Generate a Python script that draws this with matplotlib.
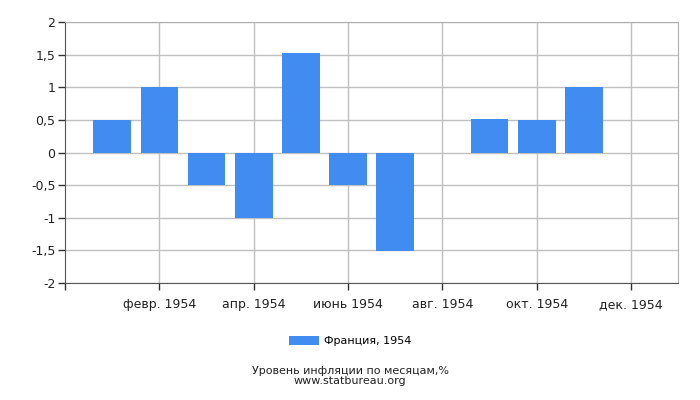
import numpy as np
import matplotlib.pyplot as plt

# Data: monthly inflation, France 1954
months = ["янв. 1954", "февр. 1954", "март 1954", "апр. 1954", "май 1954", "июнь 1954",
          "июль 1954", "авг. 1954", "сент. 1954", "окт. 1954", "нояб. 1954", "дек. 1954"]
values = [0.5, 1.01, -0.5, -1.0, 1.53, -0.5, -1.51, 0.0, 0.52, 0.5, 1.01, 0.0]
yticks = [-2, -1.5, -1, -0.5, 0, 0.5, 1, 1.5, 2]
series_label = "Франция, 1954"

bar_color = "#418CF0"

fig = plt.figure(figsize=(7, 4), dpi=100)
ax = fig.add_axes([0.093, 0.2925, 0.876, 0.6525])

x = np.arange(len(months))
ax.bar(x, values, width=0.8, color=bar_color, label=series_label, zorder=3)

ax.set_xlim(-1, 12)
ax.set_ylim(-2, 2)

# x ticks only at every second month, plus grid at those
ax.set_xticks(x[1::2])
ax.set_xticklabels(months[1::2], fontsize=9, color="#222222")
ax.set_xticks([-1], minor=True)
ax.set_yticks(yticks)
ax.set_yticklabels([f"{v:g}".replace(".", ",") for v in yticks], fontsize=9, color="#222222")

ax.grid(True, which="major", color="#C0C0C0", linewidth=1, zorder=0)
ax.tick_params(axis="both", which="both", length=5, width=1, color="#333333")
ax.tick_params(axis="x", which="major", pad=6)
ax.tick_params(axis="y", pad=2)

for side in ["top", "right"]:
    ax.spines[side].set_color("#B0B0B0")
for side in ["left", "bottom"]:
    ax.spines[side].set_color("#555555")

fig.legend(loc="center", bbox_to_anchor=(0.5, 0.147), frameon=False, fontsize=8,
           handlelength=2.7, handleheight=0.9, handletextpad=0.4)

fig.text(0.5, 0.06, "Уровень инфляции по месяцам,%\nwww.statbureau.org",
         ha="center", va="center", fontsize=8, linespacing=0.95, color="#222222")

fig.savefig("out.png", dpi=100)
